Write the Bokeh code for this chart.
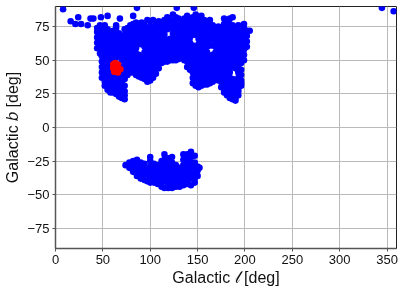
from bokeh.plotting import figure
from bokeh.embed import file_html
from bokeh.resources import INLINE
from bokeh.models import FixedTicker, Range1d

outlier_l = [8, 86, 128, 146, 344.6, 357, 16, 24, 21, 27, 34, 37, 40, 48, 55, 68, 82]
outlier_b = [88, 89, 89, 89, 89, 86.5, 79, 82, 77, 77, 76, 81, 81, 82, 83, 81, 83]

north_l = [44, 47, 49, 52, 55, 58, 61, 64, 67, 70, 73, 76, 79, 82, 85, 88, 91, 94, 97, 100,
           103, 106, 109, 112, 115, 118, 121, 124, 127, 130, 133, 136, 139, 142, 145, 148,
           151, 154, 157, 160, 163, 166, 169, 172, 175, 178, 181, 184, 187, 190, 193, 196,
           199, 202, 205]
north_b = [
    [59, 63, 67, 71, 74],
    [55, 60, 65, 70, 76],
    [37, 41, 45, 49, 53, 57, 62, 67, 72],
    [31, 34, 37, 40, 44, 48, 52, 56, 60, 64, 68, 72, 76],
    [28, 31, 34, 38, 42, 46, 50, 54, 58, 62, 66, 70, 73],
    [26, 29, 32, 36, 40, 44, 48, 52, 56, 60, 64, 68, 71],
    [26, 28, 31, 35, 39, 51, 55, 59, 63, 67, 72],
    [25, 27, 29, 33, 37, 52, 56, 60, 64, 68, 74, 76],
    [23, 25, 28, 32, 36, 40, 54, 58, 62, 66, 70],
    [22, 25, 29, 33, 37, 41, 45, 50, 55, 59, 63, 67],
    [21, 24, 27, 31, 36, 40, 44, 48, 53, 57, 61, 65, 69, 73],
    [39, 43, 47, 51, 55, 59, 63, 67, 71, 74],
    [41, 45, 49, 53, 57, 61, 65, 69, 73, 76],
    [41, 45, 49, 53, 57, 61, 65, 69, 73, 77],
    [39, 43, 47, 51, 55, 59, 62, 66, 70, 74, 78],
    [38, 42, 46, 50, 54, 62, 66, 70, 74, 77],
    [37, 41, 45, 49, 53, 62, 65, 69, 73, 78],
    [36, 40, 44, 48, 52, 56, 60, 64, 68, 72, 76],
    [34, 38, 42, 46, 50, 54, 58, 62, 66, 70, 74, 80],
    [35, 39, 43, 47, 51, 55, 59, 63, 67, 71, 75, 79],
    [37, 41, 45, 49, 53, 57, 61, 65, 69, 74, 80],
    [40, 44, 48, 52, 56, 60, 64, 68, 72, 76, 78],
    [44, 48, 52, 56, 60, 64, 68, 72, 75, 79],
    [48, 52, 56, 60, 64, 68, 72, 76, 78],
    [49, 53, 57, 61, 65, 69, 73, 77, 80],
    [49, 53, 57, 61, 65, 73, 78, 82],
    [50, 54, 58, 62, 66, 74, 77, 80],
    [50, 54, 58, 62, 66, 70, 74, 78, 84],
    [50, 54, 58, 62, 66, 71, 75, 79, 82],
    [51, 55, 59, 63, 67, 71, 75, 79, 81],
    [52, 56, 60, 64, 68, 72, 76, 78],
    [50, 54, 58, 62, 66, 70, 74, 78, 81],
    [45, 49, 53, 57, 61, 65, 69, 73, 77, 80, 83],
    [43, 47, 51, 55, 59, 63, 67, 71, 75, 78],
    [33, 37, 41, 45, 49, 53, 57, 61, 69, 73, 77, 82],
    [31, 35, 39, 43, 47, 51, 55, 60, 69, 71, 75, 79, 84],
    [30, 34, 38, 42, 46, 50, 54, 58, 62, 66, 70, 74, 78, 82],
    [31, 35, 39, 43, 47, 51, 55, 59, 63, 67, 71, 75, 79, 83],
    [32, 36, 40, 44, 48, 52, 56, 60, 64, 68, 72, 76, 80],
    [32, 36, 40, 44, 48, 52, 56, 60, 64, 68, 72, 76],
    [33, 37, 41, 45, 49, 53, 61, 65, 69, 73, 77, 80],
    [34, 38, 42, 46, 50, 54, 61, 66, 70, 74, 76],
    [36, 40, 44, 48, 52, 56, 60, 64, 68, 72],
    [35, 39, 43, 47, 51, 55, 59, 63, 67, 71, 75],
    [30, 34, 38, 42, 46, 50, 54, 58, 62, 66, 70, 74],
    [26, 29, 33, 37, 41, 45, 49, 53, 57, 61, 65, 69, 73, 77, 81],
    [24, 27, 31, 35, 39, 43, 47, 51, 55, 59, 63, 67, 71, 75, 79],
    [22, 25, 29, 33, 37, 41, 45, 49, 53, 57, 61, 65, 69, 73, 77, 81],
    [21, 24, 28, 32, 36, 45, 48, 52, 56, 60, 64, 68, 72, 76, 82],
    [20, 22, 26, 30, 34, 44, 48, 52, 56, 60, 64, 68, 72, 74],
    [24, 27, 29, 33, 37, 41, 45, 49, 53, 57, 61, 65, 69, 76],
    [31, 33, 35, 39, 43, 48, 52, 56, 60, 64, 68, 72],
    [50, 54, 58, 62, 66, 70, 74, 77],
    [60, 64, 68, 72],
    [72],
]

south_l = [74, 78, 82, 86, 90, 94, 97, 100, 104, 108, 112, 115, 119, 123, 127, 131, 135,
           139, 143, 147, 150, 152]
south_b = [
    [-28],
    [-26, -30],
    [-25, -29, -33],
    [-24, -28, -32, -36],
    [-26, -30, -34, -38],
    [-27, -31, -35, -39],
    [-31, -35, -40],
    [-22, -25, -29, -33, -37, -41],
    [-27, -31, -35, -38, -41],
    [-28, -32, -36, -40, -42],
    [-25, -29, -33, -37, -41, -44],
    [-20, -24, -28, -32, -36, -40, -45],
    [-23, -27, -31, -35, -39, -43, -45],
    [-22, -26, -30, -34, -38, -42, -45],
    [-28, -32, -36, -40, -44],
    [-30, -34, -38, -42, -44],
    [-20, -24, -28, -32, -36, -40, -43],
    [-20, -24, -28, -32, -36, -40, -42],
    [-18, -22, -26, -30, -34, -38, -43],
    [-21, -26, -30, -34, -38, -41],
    [-29, -32, -36],
    [-30],
]

red_l = [61, 63, 61, 62, 65, 65, 68.5, 66, 66]
red_b = [47, 48, 44, 41.5, 42, 45, 43.3, 46.8, 41]

x_ticks = [0, 50, 100, 150, 200, 250, 300, 350]
y_ticks = [-75, -50, -25, 0, 25, 50, 75]

blue_l, blue_b = list(outlier_l), list(outlier_b)
for cols_l, cols_b in ((north_l, north_b), (south_l, south_b)):
    for l, bs in zip(cols_l, cols_b):
        blue_l += [l] * len(bs)
        blue_b += bs

p = figure(width=404, height=293, output_backend="svg", toolbar_location=None,
           x_range=Range1d(0, 360), y_range=Range1d(-90, 90),
           min_border_left=55, min_border_right=8, min_border_top=6, min_border_bottom=45)
p.styles = {"position": "fixed", "left": "0px", "top": "0px"}

p.scatter(blue_l, blue_b, size=6.6, color="#0000ff", line_width=0)
p.scatter(red_l, red_b, size=6.6, color="#ff0000", line_width=0)

p.xaxis.ticker = FixedTicker(ticks=x_ticks)
p.yaxis.ticker = FixedTicker(ticks=y_ticks)
p.xaxis.axis_label = "Galactic 𝓁 [deg]"
p.yaxis.axis_label = "Galactic 𝑏 [deg]"
for ax in (p.xaxis[0], p.yaxis[0]):
    ax.axis_label_text_font = "Liberation Sans"
    ax.axis_label_text_font_style = "normal"
    ax.axis_label_text_font_size = "16px"
    ax.axis_label_text_color = "#111111"
    ax.major_label_text_font = "Liberation Sans"
    ax.major_label_text_font_size = "13px"
    ax.major_label_text_color = "#111111"
    ax.major_label_standoff = 3
    ax.major_tick_in = 0
    ax.major_tick_out = 3
    ax.major_tick_line_color = "#555555"
    ax.major_tick_line_width = 1
    ax.minor_tick_in = 0
    ax.minor_tick_out = 0
    ax.axis_line_color = "#555555"
    ax.axis_line_width = 1.5
p.xaxis[0].axis_label_standoff = 2
p.yaxis[0].axis_label_standoff = 3
p.grid.grid_line_color = "#b9b9b9"
p.grid.grid_line_width = 1
p.outline_line_color = "#222222"
p.outline_line_width = 1
p.background_fill_color = "white"
p.border_fill_color = "white"

open("out.html", "w").write(file_html(p, INLINE))
